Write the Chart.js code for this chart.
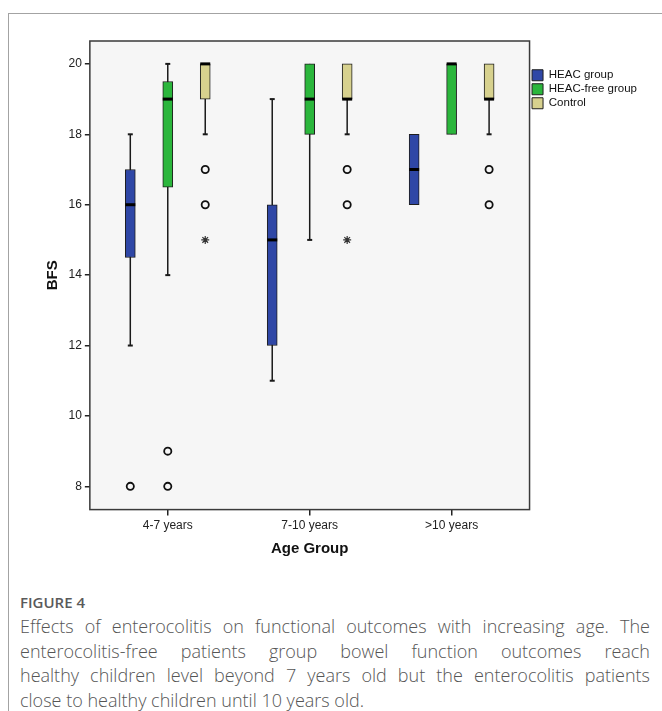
<!DOCTYPE html>
<html>
<head>
<meta charset="utf-8">
<title>BFS by age group</title>
<script src="https://cdn.jsdelivr.net/npm/chart.js@4.4.1/dist/chart.umd.min.js"></script>
<style>
    body { margin: 0; background: #ffffff; }
    #figure { position: relative; width: 662px; height: 711px; overflow: hidden; }
    #frame { position: absolute; left: 8px; top: 13px; width: 700px; height: 750px; border-top: 1px solid #a3a3a3; border-left: 1px solid #a3a3a3; }
    #chartBox { position: absolute; left: 0; top: 0; width: 662px; height: 574px; }
    #caption { position: absolute; left: 20px; top: 592px; width: 630px; font-family: "Open Sans", sans-serif; color: #555; }
    #caption .label { font-size: 15px; line-height: 20px; font-weight: 600; color: #5a5a5a; margin-bottom: 2px; }
    #caption .line { font-size: 18px; line-height: 24.5px; font-weight: 300; text-align: justify; text-align-last: justify; }
    #caption .line.last { text-align-last: left; }
</style>
</head>
<body>
<div id="figure">
    <div id="frame"></div>
    <div id="chartBox"><canvas id="bfsChart" width="662" height="574"></canvas></div>
    <div id="caption">
        <div class="label">FIGURE 4</div>
        <div class="line">Effects of enterocolitis on functional outcomes with increasing age. The</div>
        <div class="line">enterocolitis-free patients group bowel function outcomes reach</div>
        <div class="line">healthy children level beyond 7 years old but the enterocolitis patients</div>
        <div class="line last">close to healthy children until 10 years old.</div>
    </div>
</div>

<script>
const categories = ['4-7 years', '7-10 years', '>10 years'];
const groupNames = ['HEAC group', 'HEAC-free group', 'Control'];
const yTicks = [8, 10, 12, 14, 16, 18, 20];

// box plot summaries for each age group
const heacMin = [12, 11, 16];
const heacQ1 = [14.5, 12, 16];
const heacMedian = [16, 15, 17];
const heacQ3 = [17, 16, 18];
const heacMax = [18, 19, 18];
const heacOutliers = [[8], [], []];
const heacExtremes = [[], [], []];

const freeMin = [14, 15, 18];
const freeQ1 = [16.5, 18, 18];
const freeMedian = [19, 19, 20];
const freeQ3 = [19.5, 20, 20];
const freeMax = [20, 20, 20];
const freeOutliers = [[9, 8], [], []];
const freeExtremes = [[], [], []];

const controlMin = [18, 18, 18];
const controlQ1 = [19, 19, 19];
const controlMedian = [20, 19, 19];
const controlQ3 = [20, 20, 20];
const controlMax = [20, 20, 20];
const controlOutliers = [[17, 16], [17, 16], [17, 16]];
const controlExtremes = [[15], [15], []];

const groupColors = ['#2f47a6', '#2bb63c', '#d7d18e'];
const groupOffset = [-0.264, 0, 0.264]; // position of each box inside its age group

const groups = [
    { min: heacMin, q1: heacQ1, median: heacMedian, q3: heacQ3, max: heacMax, outliers: heacOutliers, extremes: heacExtremes },
    { min: freeMin, q1: freeQ1, median: freeMedian, q3: freeQ3, max: freeMax, outliers: freeOutliers, extremes: freeExtremes },
    { min: controlMin, q1: controlQ1, median: controlMedian, q3: controlQ3, max: controlMax, outliers: controlOutliers, extremes: controlExtremes }
];

function pointsFrom(key) {
    const pts = [];
    groups.forEach((g, gi) => {
        g[key].forEach((vals, i) => {
            vals.forEach(v => pts.push({ x: i + groupOffset[gi], y: v }));
        });
    });
    return pts;
}

const boxDatasets = groups.map((g, gi) => ({
    type: 'bar',
    label: groupNames[gi],
    data: categories.map((c, i) => ({ x: i + groupOffset[gi], y: [g.q1[i], g.q3[i]] })),
    backgroundColor: groupColors[gi],
    borderColor: '#1e1e1e',
    borderWidth: 1,
    borderSkipped: false,
    barThickness: 10,
    grouped: false
}));

// whiskers, caps, medians and the plot frame
const boxPlotPlugin = {
    id: 'boxPlot',
    beforeDraw(chart) {
        const { ctx, chartArea } = chart;
        ctx.save();
        ctx.fillStyle = '#f6f6f6';
        ctx.fillRect(chartArea.left, chartArea.top, chartArea.width, chartArea.height);
        ctx.restore();
    },
    beforeDatasetsDraw(chart) {
        const { ctx } = chart;
        const y = chart.scales.y;
        ctx.save();
        ctx.strokeStyle = '#1a1a1a';
        groups.forEach((g, gi) => {
            chart.getDatasetMeta(gi).data.forEach((bar, i) => {
                const x = bar.x;
                ctx.lineWidth = 1.5;
                ctx.beginPath();
                ctx.moveTo(x, y.getPixelForValue(g.min[i]));
                ctx.lineTo(x, y.getPixelForValue(g.max[i]));
                ctx.stroke();
                ctx.lineWidth = 2;
                if (g.min[i] < g.q1[i]) {
                    const py = y.getPixelForValue(g.min[i]);
                    ctx.beginPath();
                    ctx.moveTo(x - 2.5, py);
                    ctx.lineTo(x + 2.5, py);
                    ctx.stroke();
                }
                if (g.max[i] > g.q3[i]) {
                    const py = y.getPixelForValue(g.max[i]);
                    ctx.beginPath();
                    ctx.moveTo(x - 2.5, py);
                    ctx.lineTo(x + 2.5, py);
                    ctx.stroke();
                }
            });
        });
        ctx.restore();
    },
    afterDatasetsDraw(chart) {
        const { ctx, chartArea } = chart;
        const y = chart.scales.y;
        ctx.save();
        ctx.strokeStyle = '#000';
        ctx.lineWidth = 3;
        groups.forEach((g, gi) => {
            chart.getDatasetMeta(gi).data.forEach((bar, i) => {
                const py = y.getPixelForValue(g.median[i]);
                ctx.beginPath();
                ctx.moveTo(bar.x - bar.width / 2, py);
                ctx.lineTo(bar.x + bar.width / 2, py);
                ctx.stroke();
            });
        });
        ctx.strokeStyle = '#3a3a3a';
        ctx.lineWidth = 1.5;
        ctx.strokeRect(chartArea.left, chartArea.top, chartArea.width, chartArea.height);
        ctx.restore();
    }
};

Chart.defaults.font.family = '"Liberation Sans", Arial, sans-serif';
Chart.defaults.color = '#222';

const ctx = document.getElementById('bfsChart').getContext('2d');
new Chart(ctx, {
    type: 'bar',
    data: {
        datasets: [
            ...boxDatasets,
            {
                type: 'scatter',
                label: 'outliers',
                data: pointsFrom('outliers'),
                pointStyle: 'circle',
                pointRadius: 3.6,
                pointBorderWidth: 1.8,
                pointBorderColor: '#111',
                pointBackgroundColor: 'rgba(0,0,0,0)'
            },
            {
                type: 'scatter',
                label: 'extremes',
                data: pointsFrom('extremes'),
                pointStyle: 'star',
                pointRadius: 4,
                pointBorderWidth: 1.2,
                pointBorderColor: '#333'
            }
        ]
    },
    options: {
        responsive: false,
        animation: false,
        events: [],
        layout: {
            padding: { left: 38.5, top: 41, right: 15, bottom: 10 }
        },
        scales: {
            x: {
                type: 'linear',
                min: -0.549,
                max: 2.549,
                offset: false,
                afterBuildTicks: scale => {
                    scale.ticks = categories.map((c, i) => ({ value: i }));
                },
                ticks: {
                    autoSkip: false,
                    maxRotation: 0,
                    padding: 3,
                    color: '#222',
                    font: { size: 12 },
                    callback: value => categories[value]
                },
                grid: {
                    offset: false,
                    drawOnChartArea: false,
                    drawTicks: true,
                    tickLength: 6,
                    color: '#222',
                    lineWidth: 1.5
                },
                border: { display: false },
                title: {
                    display: true,
                    text: 'Age Group',
                    color: '#111',
                    font: { size: 15, weight: 'bold' },
                    padding: { top: 4, bottom: 6 }
                }
            },
            y: {
                type: 'linear',
                min: 7.34,
                max: 20.65,
                beginAtZero: false,
                afterBuildTicks: scale => {
                    scale.ticks = yTicks.map(v => ({ value: v }));
                },
                ticks: {
                    padding: 3,
                    color: '#222',
                    font: { size: 12 }
                },
                grid: {
                    drawOnChartArea: false,
                    drawTicks: true,
                    tickLength: 5,
                    color: '#222',
                    lineWidth: 1.5
                },
                border: { display: false },
                title: {
                    display: true,
                    text: 'BFS',
                    color: '#111',
                    font: { size: 15, weight: 'bold' },
                    padding: { top: 5.5, bottom: 3.5 }
                }
            }
        },
        plugins: {
            tooltip: { enabled: false },
            legend: {
                position: 'right',
                align: 'start',
                title: { display: true, text: '', font: { size: 10 }, padding: { top: 14, bottom: 0 } },
                labels: {
                    filter: item => item.datasetIndex < 3,
                    boxWidth: 11,
                    boxHeight: 11,
                    padding: 2.5,
                    color: '#111',
                    font: { size: 11.5 }
                }
            }
        }
    },
    plugins: [boxPlotPlugin]
});
</script>
</body>
</html>
